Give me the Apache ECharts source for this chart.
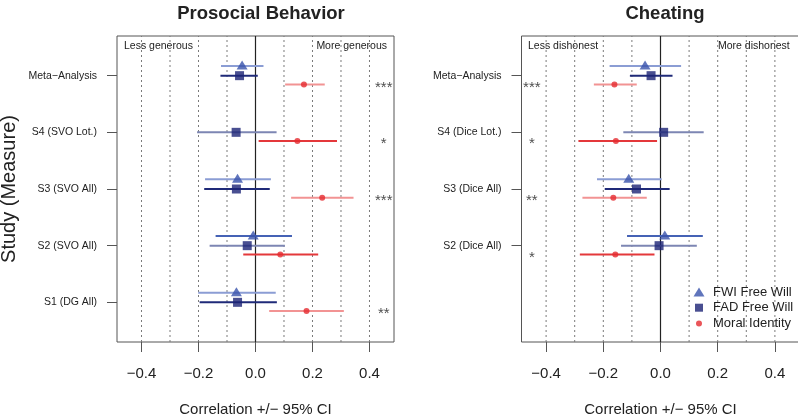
<!DOCTYPE html>
<html>
<head>
<meta charset="utf-8">
<script src="https://cdn.jsdelivr.net/npm/echarts@6/dist/echarts.min.js"></script>
<style>html,body{margin:0;padding:0;background:#fff}#c{width:798px;height:416px}</style>
</head>
<body>
<div id="c"></div>
<script>
// ---------- DATA ----------
// rows bottom -> top (y = 1..5)
const prosocialStudies = ['S1 (DG All)', 'S2 (SVO All)', 'S3 (SVO All)', 'S4 (SVO Lot.)', 'Meta\u2212Analysis'];
const cheatingStudies  = ['', 'S2 (Dice All)', 'S3 (Dice All)', 'S4 (Dice Lot.)', 'Meta\u2212Analysis'];

const proFwiEst = [-0.067, -0.008, -0.063, null, -0.047];
const proFwiLo  = [-0.201, -0.140, -0.177, null, -0.121];
const proFwiHi  = [ 0.071,  0.128,  0.054, null,  0.028];
const proFadEst = [-0.063, -0.029, -0.067, -0.068, -0.056];
const proFadLo  = [-0.196, -0.161, -0.180, -0.205, -0.123];
const proFadHi  = [ 0.075,  0.103,  0.050,  0.074,  0.008];
const proMiEst  = [ 0.179,  0.087,  0.234,  0.147,  0.170];
const proMiLo   = [ 0.048, -0.043,  0.125,  0.011,  0.104];
const proMiHi   = [ 0.310,  0.220,  0.344,  0.286,  0.243];
const proSig    = ['**', '', '***', '*', '***'];

const cheFwiEst = [null,  0.015, -0.111, null, -0.054];
const cheFwiLo  = [null, -0.117, -0.222, null, -0.178];
const cheFwiHi  = [null,  0.148,  0.004, null,  0.072];
const cheFadEst = [null, -0.005, -0.084,  0.011, -0.033];
const cheFadLo  = [null, -0.138, -0.195, -0.130, -0.107];
const cheFadHi  = [null,  0.127,  0.032,  0.151,  0.042];
const cheMiEst  = [null, -0.158, -0.165, -0.156, -0.161];
const cheMiLo   = [null, -0.282, -0.273, -0.287, -0.233];
const cheMiHi   = [null, -0.021, -0.048, -0.012, -0.083];
const cheSig    = ['', '*', '**', '*', '***'];

const xTicks = [-0.4, -0.2, 0, 0.2, 0.4];
const proRows = [1, 2, 3, 4, 5];
const cheRows = [2, 3, 4, 5];
const refLines = [-0.4, -0.3, -0.2, -0.1, 0, 0.1, 0.2, 0.3, 0.4];
const seriesNames = ['FWI Free Will', 'FAD Free Will', 'Moral Identity'];

// ---------- STYLE ----------
const FONT = '"Liberation Sans", Arial, Helvetica, sans-serif';
const markerColors = ['#3853ab', '#1b2376', '#e52a2f'];
// line tone per row (S1..Meta): 0 = pale variant, 1 = strong variant
const rowTone = [0, 1, 0, 1, 0];
const lineColors = [
  ['#8b9dd4', '#4562b5'],   // FWI
  ['#1f2a78', '#7d86b3'],   // FAD
  ['#f29393', '#e4383b']    // MI
];
const OFFSETS = [0.17, 0, -0.155];
const XMIN = -0.486, XMAX = 0.486, YMIN = 0.3, YMAX = 5.7;

const panels = [
  {studies: prosocialStudies, rows: proRows, est: [proFwiEst, proFadEst, proMiEst], lo: [proFwiLo, proFadLo, proMiLo], hi: [proFwiHi, proFadHi, proMiHi], sig: proSig, sigX: 0.45, left: 117, width: 277},
  {studies: cheatingStudies, rows: cheRows, est: [cheFwiEst, cheFadEst, cheMiEst], lo: [cheFwiLo, cheFadLo, cheMiLo], hi: [cheFwiHi, cheFadHi, cheMiHi], sig: cheSig, sigX: -0.45, left: 521.5, width: 278}
];

const grids = [], xAxes = [], yAxes = [], series = [];
panels.forEach((p, pi) => {
  grids.push({left: p.left, top: 36, width: p.width, height: 306, show: true, borderColor: '#555', borderWidth: 1,
    backgroundColor: 'transparent', containLabel: false, outerBoundsMode: 'none'});
  xAxes.push({
    type: 'value', gridIndex: pi, min: XMIN, max: XMAX, position: 'bottom',
    axisLine: {show: false, onZero: false}, splitLine: {show: false},
    axisTick: {show: true, length: 10, customValues: xTicks, lineStyle: {color: '#555'}},
    axisLabel: {customValues: xTicks, margin: 24, color: '#222', fontSize: 15, fontFamily: FONT,
      formatter: v => (v < 0 ? '\u2212' : '') + Math.abs(v).toFixed(1)},
    name: 'Correlation +/\u2212 95% CI', nameLocation: 'middle', nameGap: 60,
    nameTextStyle: {color: '#222', fontSize: 15, fontFamily: FONT}
  });
  const yAx = {
    type: 'value', gridIndex: pi, min: YMIN, max: YMAX, position: 'left',
    axisLine: {show: false, onZero: false}, splitLine: {show: false},
    axisTick: {show: true, length: 10, customValues: p.rows, lineStyle: {color: '#555'}},
    axisLabel: {customValues: p.rows, margin: 20, color: '#222', fontSize: 10.5, fontFamily: FONT,
      formatter: v => p.studies[Math.round(v) - 1] || ''}
  };
  if (pi === 0) {
    yAx.name = 'Study (Measure)'; yAx.nameLocation = 'middle'; yAx.nameGap = 98; yAx.nameRotate = 90;
    yAx.nameTextStyle = {color: '#222', fontSize: 20, fontFamily: FONT};
  }
  yAxes.push(yAx);

  // reference lines (dotted grid, solid zero)
  series.push({
    type: 'custom', xAxisIndex: pi, yAxisIndex: pi, z: 1, silent: true,
    data: refLines.map(v => [v]),
    encode: {x: 0},
    renderItem: (params, api) => {
      const v = api.value(0);
      const a = api.coord([v, YMIN]);
      const b = api.coord([v, YMAX]);
      return {type: 'line', shape: {x1: a[0], y1: a[1], x2: b[0], y2: b[1]},
        style: v === 0 ? {stroke: '#222', lineWidth: 1.2} : {stroke: '#7a7a7a', lineWidth: 1, lineDash: [2, 3]}};
    }
  });

  for (let k = 0; k < 3; k++) {
    const bars = [], pts = [];
    p.est[k].forEach((e, i) => {
      if (e === null) return;
      const y = i + 1 + OFFSETS[k];
      bars.push([p.lo[k][i], p.hi[k][i], y, rowTone[i]]);
      pts.push([e, y]);
    });
    series.push({
      type: 'custom', xAxisIndex: pi, yAxisIndex: pi, z: 3, silent: true,
      data: bars,
      encode: {x: [0, 1], y: 2},
      renderItem: (params, api) => {
        const a = api.coord([api.value(0), api.value(2)]);
        const b = api.coord([api.value(1), api.value(2)]);
        return {type: 'line', shape: {x1: a[0], y1: a[1], x2: b[0], y2: b[1]},
          style: {stroke: lineColors[k][api.value(3)], lineWidth: 2}};
      }
    });
    series.push({
      type: 'scatter', name: seriesNames[k], xAxisIndex: pi, yAxisIndex: pi, z: 5,
      symbol: ['triangle', 'rect', 'circle'][k],
      symbolSize: [[11, 9], 9, 6][k],
      symbolOffset: [[0, -1], 0, 0][k],
      itemStyle: {color: markerColors[k]},
      data: pts
    });
  }
  // significance stars
  series.push({
    type: 'scatter', xAxisIndex: pi, yAxisIndex: pi, symbolSize: 0, silent: true, z: 6,
    data: p.sig.map((s, i) => ({value: [p.sigX, i + 1 + OFFSETS[2]], s: s})).filter(d => d.s),
    label: {show: true, position: 'inside', offset: [0, 3], fontSize: 15, color: '#1a1a1a', fontFamily: FONT,
      formatter: d => d.data.s}
  });
});

const legendIconW = [11, 8, 6], legendIconH = [9, 8, 6];
const chart = echarts.init(document.getElementById('c'), null, {renderer: 'canvas'});
chart.setOption({
  animation: false,
  backgroundColor: '#fff',
  title: [
    {text: 'Prosocial Behavior', left: 256, top: -1, textAlign: 'center',
      textStyle: {fontSize: 18.5, fontWeight: 'bold', color: '#222', fontFamily: FONT}},
    {text: 'Cheating', left: 660, top: -1, textAlign: 'center',
      textStyle: {fontSize: 18.5, fontWeight: 'bold', color: '#222', fontFamily: FONT}}
  ],
  legend: seriesNames.map((n, k) => ({
    data: [n], left: 699 - legendIconW[k] / 2, top: 285.5 + k * 15.7, orient: 'vertical',
    itemWidth: legendIconW[k], itemHeight: legendIconH[k], itemGap: 0, padding: 0,
    textStyle: {fontSize: 13, color: '#222', fontFamily: FONT, padding: [0, 0, 0, 9 - legendIconW[k] / 2]},
    selectedMode: false
  })),
  grid: grids, xAxis: xAxes, yAxis: yAxes, series: series,
  graphic: [
    {type: 'text', left: 124, top: 41, style: {text: 'Less generous', fontSize: 10.5, fill: '#222', fontFamily: FONT}},
    {type: 'text', right: 798 - 387, top: 41, style: {text: 'More generous', fontSize: 10.5, fill: '#222', fontFamily: FONT}},
    {type: 'text', left: 528, top: 41, style: {text: 'Less dishonest', fontSize: 10.5, fill: '#222', fontFamily: FONT}},
    {type: 'text', left: 718, top: 41, style: {text: 'More dishonest', fontSize: 10.5, fill: '#222', fontFamily: FONT}}
  ]
});
</script>
</body>
</html>
